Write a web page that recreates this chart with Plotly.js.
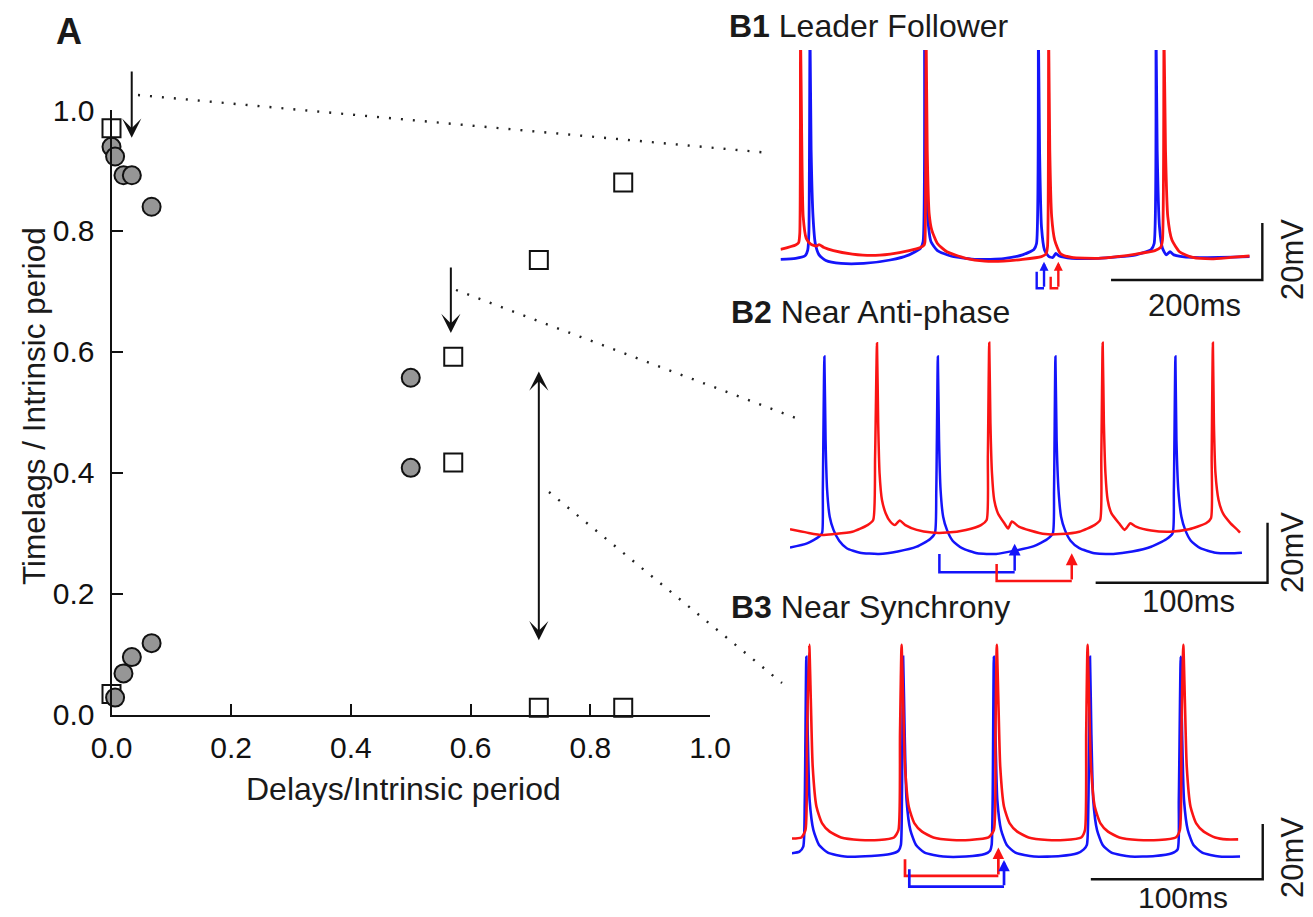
<!DOCTYPE html>
<html><head><meta charset="utf-8">
<script src="https://cdn.plot.ly/plotly-3.0.1.min.js"></script>
<style>html,body{margin:0;padding:0;background:#fff}#chart{width:1313px;height:917px}</style>
</head><body><div id="chart"></div>
<script>
// ---------- Panel A data (Delays/Intrinsic period vs Timelags/Intrinsic period) ----------
const squaresX = [0.0, 0.0, 0.571, 0.571, 0.714, 0.855, 0.714, 0.855];
const squaresY = [0.970, 0.034, 0.592, 0.417, 0.752, 0.880, 0.011, 0.011];
const circlesX = [0.0, 0.006, 0.020, 0.034, 0.067, 0.500, 0.500, 0.067, 0.034, 0.020, 0.006];
const circlesY = [0.939, 0.923, 0.892, 0.892, 0.840, 0.557, 0.408, 0.118, 0.095, 0.068, 0.028];
const xTicks = [0, 0.2, 0.4, 0.6, 0.8, 1.0];
const yTicks = [0, 0.2, 0.4, 0.6, 0.8, 1.0];

// ---------- Panel B1 traces (time ms, membrane potential mV) ----------
const b1BlueT = [0,20,32.5,36,37.5,39,40.5,43,46,51,60,80,110,145,170,185,188.5,190.5,192,194.5,199,207.5,225,260,295,320,335,338.5,341,342.5,345,349,355,360,364,368.5,385,420,470,490,494,496.5,498,501,505,510,515,520,545,620];
const b1BlueV = [-59.8,-59.4,-58.5,-56.5,-50.6,20,-21.4,-44.8,-54.2,-58.2,-60.2,-61.2,-61.2,-60,-58.2,-55.9,-53.6,20,-21.4,-44.8,-53.6,-56.7,-58.6,-59.8,-59.5,-58.2,-56.3,-54.2,20,-21.4,-48.3,-56.5,-58.8,-59.1,-57.7,-58.6,-59.4,-59.4,-58.2,-56.3,-54.2,20,-21.4,-48.3,-55.9,-58.2,-57.1,-58.2,-59.1,-58.8];
const b1RedT = [0,20,24,25.5,26.5,28,30,34,40,47.5,51,57.5,70,95,120,145,170,185,190,191,192.5,194,196.5,200,207.5,220,245,270,295,320,345,351,353,354.5,356,358.5,362.5,370,385,420,445,470,495,502.5,505,507,509,512,517.5,527.5,545,570,595,620];
const b1RedV = [-56.3,-54.7,-53.9,-50.6,20,-15.5,-44.8,-52.4,-54.4,-55.1,-54.6,-55.6,-56.7,-57.9,-58.4,-57.9,-56.7,-55.6,-54.7,-53.6,20,-21.4,-43.6,-49.5,-54.2,-57.1,-59.4,-60.4,-60.4,-59.8,-58.8,-57.9,-55.3,20,-21.4,-44.8,-53,-57.7,-59.1,-59.4,-58.8,-57.9,-56.7,-55.6,-53,20,-21.4,-44.8,-53,-57.1,-59.1,-59.6,-59.1,-58.6];

// ---------- Panel B2 traces ----------
const b2BlueT = [0,9.9,17,18.7,19.1,20,20.7,21.6,23.1,25.3,28.6,33,40.7,51.7,62.7,73.7,81.4,84.3,85.1,86,86.7,87.6,89.1,91.3,94.6,100.1,108.9,119.9,130.9,141.9,149.6,152.9,153.6,154.4,155.1,156.2,157.7,159.9,163.2,168.3,177.1,188.1,199.1,210.1,218.9,222.6,223.3,224.2,224.8,225.9,227.7,229.9,233.2,238.7,247.5,256.3,262.9];
const b2BlueV = [-58.1,-56.7,-54.4,-53.1,-38.9,5.6,-22.2,-38.9,-47.8,-52.2,-55.8,-58.3,-59.8,-60.2,-59.4,-57.8,-55.3,-53.3,-38.9,5.6,-22.2,-38.9,-47.8,-52.2,-55.8,-58.3,-60,-60.2,-59.1,-57.6,-55.3,-53.3,-38.9,5.6,-22.2,-38.9,-47.8,-52.2,-55.8,-58.3,-60,-60.2,-59.4,-57.8,-55.3,-53.3,-38.9,5.6,-22.2,-38.9,-47.8,-52.2,-55.8,-58.3,-59.8,-60,-59.8];
const b2RedT = [0,9.9,18.7,25.3,36.3,45.1,48.4,49.5,50.6,51.3,52.1,53.5,55.7,58.3,61,63.8,67.1,73.7,82.5,91.3,102.3,111.1,114.4,115.1,115.9,116.6,117.5,118.8,121,124.7,126.9,129.1,133.1,139.7,148.5,157.3,168.3,177.1,180.4,181.1,181.9,182.6,183.5,184.8,187,191.4,194.7,198,201.3,210.1,221.1,232.1,242,244.9,245.3,246,246.6,247.5,249.3,251.9,256.3,260.7,261.8];
const b2RedV = [-52,-53.1,-53.9,-53.6,-52.8,-50.6,-48.9,-27.8,10,-16.7,-33.3,-42.2,-46.7,-49.4,-50.6,-49.1,-50.6,-52.2,-53.1,-53.1,-52.2,-50.6,-48.9,-27.8,10.2,-16.7,-33.3,-42.2,-46.7,-50,-51.7,-49.4,-51.1,-52.4,-53.6,-53.6,-52.8,-50.6,-48.9,-27.8,10.2,-16.7,-33.3,-42.2,-46.7,-50,-52.2,-50,-51.1,-52.4,-52.8,-52,-50,-48.3,-27.8,10.2,-16.7,-33.3,-42.2,-46.7,-50,-52.4,-53.1];

// ---------- Panel B3 traces ----------
const b3BlueT = [0,4.4,6.6,7.5,8.4,9.2,10.3,12.5,15.8,20.9,30.8,46.2,57.2,62,63.4,64,64.7,65.6,66.7,68.9,72.2,77.2,88,101.2,112.2,115.3,116.2,116.8,117.5,118.4,119.5,121.7,125,130,140.8,156.2,166.1,169.8,171.6,172.5,173.4,174.2,175.3,177.5,180.8,185.9,196.9,211.2,221.1,224.4,225.1,226.2,227,228.1,230.3,233.6,238.7,248.6,260.7];
const b3BlueV = [-59,-58.4,-56.6,-39.8,12,-15.7,-39.8,-50.6,-56,-58.8,-60.2,-60,-59.3,-58.1,-56,-39.8,12,-15.7,-39.8,-50.6,-56,-58.8,-60.2,-60.2,-59.3,-58.1,-56,-39.8,12,-15.7,-39.8,-50.6,-56,-58.8,-60.2,-60,-59,-57.6,-56,-39.8,12,-15.7,-39.8,-50.6,-56,-58.8,-60.2,-60,-59,-57.6,-39.8,12,-15.7,-39.8,-50.6,-56,-58.8,-60.2,-60.2];
const b3RedT = [0,5.5,7.9,8.8,10.1,11,12.1,14.3,17.6,22,28.6,39.6,50.6,59.4,62,62.9,63.8,64.7,65.8,68,71.3,75.7,82.3,93.3,103.4,114.4,117.5,118.4,119.2,120.1,121.2,123.4,126.7,131.1,137.7,148.7,158.4,168.3,170.5,171.2,172,172.9,174,176.2,179.5,183.9,190.5,201.5,213.4,223.3,225.7,226.6,227.7,228.6,229.7,231.9,235.2,239.6,246.2,253,259.6];
const b3RedV = [-53.7,-53.3,-50.6,-15.7,16.3,-3.6,-27.7,-42.2,-48.2,-51.2,-53.3,-54.2,-54.2,-53.3,-50.6,-15.7,16.3,-3.6,-27.7,-42.2,-48.2,-51.2,-53.3,-54.2,-54.2,-53.3,-50.6,-15.7,16.3,-3.6,-27.7,-42.2,-48.2,-51.2,-53.3,-54.2,-54.2,-53.3,-50.6,-15.7,16.3,-3.6,-27.7,-42.2,-48.2,-51.2,-53.3,-54.2,-54.2,-53.3,-50.6,-15.7,16.3,-3.6,-27.7,-42.2,-48.2,-51.2,-53.3,-54,-54];

// Delay / lag brackets: [leftT, rightT, leftTopV, bottomV, tipV]
const b1BracketBlue = [338.7, 348.4, -64.1, -69.9, -60.6];
const b1BracketRed  = [357.2, 367.3, -65.9, -69.9, -60.6];
const b2BracketBlue = [86.9, 130.7, -60.2, -66.3, -56.8];
const b2BracketRed  = [120.2, 163.9, -63.6, -69.2, -60.0];
const b3BracketRed  = [65.8, 120.1, -61.2, -67.2, -56.9];
const b3BracketBlue = [68.3, 123.4, -64.8, -71.1, -61.4];

// Scale bars: [t0, v0, ms length, mV length]
const b1Scale = [437, -67.0, 200, 20];
const b2Scale = [177.8, -69.8, 100, 20];
const b3Scale = [173.9, -68.42, 100, 20];

// ---------- layout helpers ----------
const W = 1313, H = 917;
const fx = p => p / W, fy = p => 1 - p / H;
const FONT = 'Liberation Sans, Arial, Helvetica, sans-serif';
const INK = '#111';
const RED = 'rgb(250,20,20)', BLUE = 'rgb(20,20,250)';

function tr(x, y, color, xa, ya, w) {
  return {x: x, y: y, type: 'scatter', mode: 'lines', xaxis: xa, yaxis: ya,
          line: {color: color, width: w, shape: 'spline', smoothing: 0.55}, hoverinfo: 'skip'};
}

const data = [
  {x: squaresX, y: squaresY, type: 'scatter', mode: 'markers', xaxis: 'x', yaxis: 'y', cliponaxis: false,
   marker: {symbol: 'square', size: 18, color: '#ffffff', line: {color: INK, width: 2}}},
  {x: circlesX, y: circlesY, type: 'scatter', mode: 'markers', xaxis: 'x', yaxis: 'y', cliponaxis: false,
   marker: {symbol: 'circle', size: 18, color: '#969696', line: {color: INK, width: 2}}},
  tr(b1BlueT, b1BlueV, BLUE, 'x2', 'y2', 2.8),
  tr(b1RedT, b1RedV, RED, 'x2', 'y2', 2.8),
  tr(b2BlueT, b2BlueV, BLUE, 'x3', 'y3', 2.5),
  tr(b2RedT, b2RedV, RED, 'x3', 'y3', 2.5),
  tr(b3BlueT, b3BlueV, BLUE, 'x4', 'y4', 2.6),
  tr(b3RedT, b3RedV, RED, 'x4', 'y4', 2.6),
];

const axA = {showline: true, linewidth: 2, linecolor: INK, ticks: 'inside', ticklen: 11, tickwidth: 2,
  tickcolor: INK, showgrid: false, zeroline: false, tickfont: {size: 30, color: INK, family: FONT},
  tickformat: '.1f', fixedrange: true};
const hid = {visible: false, fixedrange: true, showgrid: false, zeroline: false};

const shapes = [];
const annotations = [];

function dotted(x0, y0, x1, y1) {
  shapes.push({type: 'line', xref: 'paper', yref: 'paper', x0: fx(x0), y0: fy(y0), x1: fx(x1), y1: fy(y1),
    line: {color: '#222', width: 2.4, dash: '2px,10px'}});
}
dotted(138, 95, 770, 153);
dotted(456, 290, 796, 418);
dotted(549, 492, 782, 683);

function scaleBar(s, xr, yr) {
  const [t0, v0, ms, mv] = s;
  shapes.push({type: 'path', xref: xr, yref: yr,
    path: `M${t0},${v0} L${t0 + ms},${v0} L${t0 + ms},${v0 + mv}`, line: {color: INK, width: 2.4}});
}
scaleBar(b1Scale, 'x2', 'y2');
scaleBar(b2Scale, 'x3', 'y3');
scaleBar(b3Scale, 'x4', 'y4');

function bracket(b, color, xr, yr, w, hs) {
  const [l, r, top, bot, tip] = b;
  shapes.push({type: 'path', xref: xr, yref: yr, path: `M${l},${top} L${l},${bot} L${r},${bot}`,
    line: {color: color, width: w}});
  annotations.push({xref: xr, yref: yr, axref: xr, ayref: yr, x: r, y: tip, ax: r, ay: bot, text: '',
    showarrow: true, arrowhead: 2, arrowsize: hs, arrowwidth: w, arrowcolor: color, standoff: 0, startstandoff: 0});
}
bracket(b1BracketBlue, BLUE, 'x2', 'y2', 2.4, 0.75);
bracket(b1BracketRed, RED, 'x2', 'y2', 2.4, 0.75);
bracket(b2BracketBlue, BLUE, 'x3', 'y3', 2.5, 0.95);
bracket(b2BracketRed, RED, 'x3', 'y3', 2.5, 0.95);
bracket(b3BracketRed, RED, 'x4', 'y4', 2.7, 0.85);
bracket(b3BracketBlue, BLUE, 'x4', 'y4', 2.7, 0.85);

// Arrows in panel A
annotations.push({xref: 'x', yref: 'y', axref: 'x', ayref: 'y', x: 0.0338, y: 0.954, ax: 0.0338, ay: 1.066,
  text: '', showarrow: true, arrowhead: 3, arrowsize: 1.6, arrowwidth: 2, arrowcolor: INK, standoff: 0});
annotations.push({xref: 'x', yref: 'y', axref: 'x', ayref: 'y', x: 0.567, y: 0.631, ax: 0.567, ay: 0.742,
  text: '', showarrow: true, arrowhead: 3, arrowsize: 1.6, arrowwidth: 2, arrowcolor: INK, standoff: 0});
annotations.push({xref: 'x', yref: 'y', axref: 'x', ayref: 'y', x: 0.714, y: 0.123, ax: 0.714, ay: 0.570,
  text: '', showarrow: true, arrowside: 'end+start', arrowhead: 3, startarrowhead: 3, arrowsize: 1.6,
  startarrowsize: 1.6, arrowwidth: 2, arrowcolor: INK, standoff: 0, startstandoff: 0});

function label(text, px, py, size, opts) {
  annotations.push(Object.assign({xref: 'paper', yref: 'paper', x: fx(px), y: fy(py), text: text,
    showarrow: false, xanchor: 'center', yanchor: 'middle', borderpad: 0,
    font: {family: FONT, size: size, color: '#1a1a1a'}}, opts || {}));
}
label('<b>A</b>', 69, 32, 36);
label('Delays/Intrinsic period', 403, 789, 32);
label('Timelags / Intrinsic period', 34, 406, 31.5, {textangle: -90});
label('<b>B1</b> Leader Follower', 728, 26, 32, {xanchor: 'left'});
label('<b>B2</b> Near Anti-phase', 730, 312, 32, {xanchor: 'left'});
label('<b>B3</b> Near Synchrony', 730, 607, 32, {xanchor: 'left'});
label('200ms', 1194, 306, 31);
label('20mV', 1292, 260, 31, {textangle: -90});
label('100ms', 1188, 601, 31);
label('20mV', 1292, 553, 31, {textangle: -90});
label('100ms', 1183, 897, 30);
label('20mV', 1292, 858, 31, {textangle: -90});

const layout = {
  width: W, height: H, margin: {l: 0, r: 0, t: 0, b: 0}, paper_bgcolor: '#fff', plot_bgcolor: 'rgba(0,0,0,0)',
  showlegend: false, font: {family: FONT, color: INK},
  xaxis: Object.assign({}, axA, {domain: [fx(111.5), fx(710)], range: [0, 1], tickvals: xTicks, anchor: 'y', ticklabelstandoff: 5}),
  yaxis: Object.assign({}, axA, {domain: [fy(714.5), fy(110)], range: [0, 1], tickvals: yTicks, anchor: 'x', ticklabelstandoff: 9}),
  xaxis2: Object.assign({}, hid, {domain: [fx(780.5), fx(1270)], range: [0, 647.14], anchor: 'y2'}),
  yaxis2: Object.assign({}, hid, {domain: [fy(295), fy(50)], range: [-72.285, 13.71], anchor: 'x2'}),
  xaxis3: Object.assign({}, hid, {domain: [fx(790), fx(1270)], range: [0, 279.23], anchor: 'y3'}),
  yaxis3: Object.assign({}, hid, {domain: [fy(590), fy(335)], range: [-72.23, 12.77], anchor: 'x3'}),
  xaxis4: Object.assign({}, hid, {domain: [fx(791.9), fx(1270)], range: [0, 278.13], anchor: 'y4'}),
  yaxis4: Object.assign({}, hid, {domain: [fy(892), fy(630)], range: [-73.01, 21.68], anchor: 'x4'}),
  shapes: shapes, annotations: annotations
};

Plotly.newPlot('chart', data, layout, {staticPlot: true, displayModeBar: false});
</script></body></html>
